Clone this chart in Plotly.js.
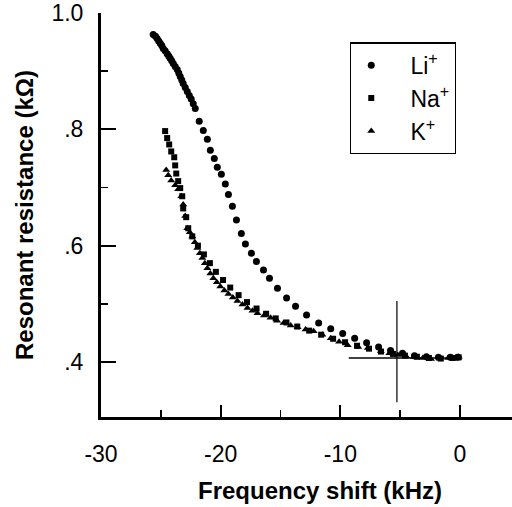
<!DOCTYPE html>
<html><head><meta charset="utf-8">
<script src="https://cdn.plot.ly/plotly-3.0.1.min.js"></script>
<style>html,body{margin:0;padding:0;background:#fff}#c{width:512px;height:507px}</style>
</head><body><div id="c"></div>
<script>
const liX = [-25.64,-25.45,-25.31,-25.18,-25.05,-24.92,-24.80,-24.64,-24.47,-24.34,-24.22,-24.09,-23.96,-23.80,-23.63,-23.50,-23.38,-23.25,-23.13,-22.96,-22.79,-22.62,-22.46,-22.29,-22.12,-21.79,-21.45,-21.11,-20.86,-20.53,-20.28,-19.94,-19.61,-19.35,-19.02,-18.68,-18.27,-17.93,-17.43,-17.01,-16.42,-15.92,-15.25,-14.49,-13.74,-12.82,-11.81,-10.8,-9.8,-8.8,-7.8,-6.8,-5.8,-4.8,-3.8,-2.8,-1.8,-0.8,-0.2];
const liY = [0.963,0.960,0.956,0.952,0.948,0.944,0.939,0.935,0.930,0.926,0.922,0.918,0.913,0.908,0.903,0.897,0.891,0.885,0.879,0.872,0.865,0.858,0.852,0.844,0.836,0.814,0.798,0.783,0.764,0.750,0.735,0.723,0.706,0.688,0.668,0.644,0.621,0.603,0.587,0.573,0.558,0.544,0.527,0.510,0.496,0.481,0.467,0.457,0.449,0.441,0.433,0.426,0.420,0.415,0.411,0.409,0.408,0.408,0.408];

const naX = [-24.64,-24.47,-24.30,-24.13,-23.88,-23.80,-23.71,-23.55,-23.38,-23.21,-23.13,-22.88,-22.71,-22.37,-21.9,-21.4,-20.9,-20.4,-19.8,-19.2,-18.5,-17.8,-17.0,-16.2,-15.4,-14.5,-13.6,-12.6,-11.6,-10.6,-9.6,-8.6,-7.6,-6.6,-5.6,-4.6,-3.6,-2.6,-1.6,-0.6,-0.1];
const naY = [0.797,0.785,0.774,0.762,0.752,0.738,0.724,0.711,0.699,0.685,0.664,0.649,0.630,0.616,0.600,0.585,0.570,0.555,0.541,0.528,0.515,0.503,0.492,0.483,0.475,0.468,0.461,0.454,0.447,0.440,0.434,0.428,0.423,0.418,0.414,0.411,0.409,0.407,0.406,0.407,0.408];

const kX = [-24.55,-24.38,-24.13,-23.80,-23.55,-23.29,-23.13,-22.96,-22.79,-22.58,-22.37,-22.16,-21.95,-21.74,-21.53,-21.32,-21.11,-20.86,-20.61,-20.32,-20.03,-19.69,-19.35,-18.98,-18.60,-18.18,-17.76,-17.34,-16.92,-16.38,-15.83,-15.28,-14.74,-14.15,-13.57,-12.90,-12.23,-11.5,-10.80,-10.1,-9.38,-8.5,-7.70,-6.61,-5.9,-5.19,-4.5,-3.85,-3.1,-2.42,-1.7,-0.99,-0.1];
const kY = [0.730,0.721,0.712,0.704,0.697,0.685,0.671,0.651,0.630,0.623,0.616,0.606,0.596,0.587,0.579,0.570,0.561,0.552,0.544,0.537,0.530,0.523,0.517,0.511,0.505,0.499,0.493,0.488,0.484,0.480,0.476,0.471,0.467,0.463,0.460,0.456,0.453,0.447,0.441,0.435,0.429,0.426,0.424,0.419,0.415,0.412,0.410,0.409,0.407,0.405,0.406,0.407,0.409];

const hLineX = [-9.29, 0];
const hLineY = [0.407, 0.407];
const vLineX = [-5.27, -5.27];
const vLineY = [0.331, 0.505];

const yTickVals = [0.4, 0.6, 0.8, 1.0];
const yTickText = ['.4', '.6', '.8', '1.0'];
const yMinorVals = [0.5, 0.7, 0.9];
const xTickVals = [-30, -20, -10, 0];
const xTickText = ['-30', '-20', '-10', '0'];
const xMinorVals = [-25, -15, -5];

const pad = '\u00a0\u00a0\u00a0';
const font = 'Liberation Sans, Arial, sans-serif';
const traces = [
  {x: liX, y: liY, mode: 'markers', name: pad + 'Li<sup>+</sup>', cliponaxis: false, marker: {symbol: 'circle', size: 7, color: '#000'}},
  {x: naX, y: naY, mode: 'markers', name: pad + 'Na<sup>+</sup>', cliponaxis: false, marker: {symbol: 'square', size: 6, color: '#000'}},
  {x: kX, y: kY, mode: 'markers', name: pad + 'K<sup>+</sup>', cliponaxis: false, marker: {symbol: 'triangle-up', size: 7, color: '#000'}},
  {x: hLineX, y: hLineY, mode: 'lines', showlegend: false, line: {color: '#000', width: 1.5}},
  {x: vLineX, y: vLineY, mode: 'lines', showlegend: false, line: {color: '#000', width: 1.2}}
];
const layout = {
  width: 512, height: 507,
  margin: {l: 101, r: 0, t: 13, b: 90},
  paper_bgcolor: '#fff', plot_bgcolor: '#fff',
  font: {family: font, color: '#000', size: 23},
  showlegend: true,
  legend: {x: 0.606, y: 0.927, xanchor: 'left', yanchor: 'top', bordercolor: '#000', borderwidth: 1.2,
           bgcolor: '#fff', font: {size: 23, family: font}, itemwidth: 30},
  xaxis: {range: [-30, 4.35], showgrid: false, zeroline: false, showline: true, linewidth: 3, linecolor: '#000',
          ticks: 'inside', ticklen: 12, tickwidth: 2, tickcolor: '#000', tickvals: xTickVals, ticktext: xTickText,
          tickfont: {size: 23}, ticklabelstandoff: 14,
          minor: {tickvals: xMinorVals, ticks: 'inside', ticklen: 7, tickwidth: 1.5, tickcolor: '#000'}},
  yaxis: {range: [0.3055, 1.0], showgrid: false, zeroline: false, showline: true, linewidth: 3, linecolor: '#000',
          ticks: 'inside', ticklen: 15, tickwidth: 2, tickcolor: '#000', tickvals: yTickVals, ticktext: yTickText,
          tickfont: {size: 23}, ticklabelstandoff: 10,
          minor: {tickvals: yMinorVals, ticks: 'inside', ticklen: 7, tickwidth: 1.5, tickcolor: '#000'},
          title: {text: '<b>Resonant resistance (kΩ)</b>', font: {size: 24}, standoff: 12}},
  annotations: [
    {text: '<b>Frequency shift (kHz)</b>', xref: 'paper', yref: 'paper', x: 0.533, y: -0.182,
     xanchor: 'center', yanchor: 'middle', showarrow: false, font: {size: 24}}
  ]
};
Plotly.newPlot('c', traces, layout, {displayModeBar: false, staticPlot: true});
</script></body></html>
